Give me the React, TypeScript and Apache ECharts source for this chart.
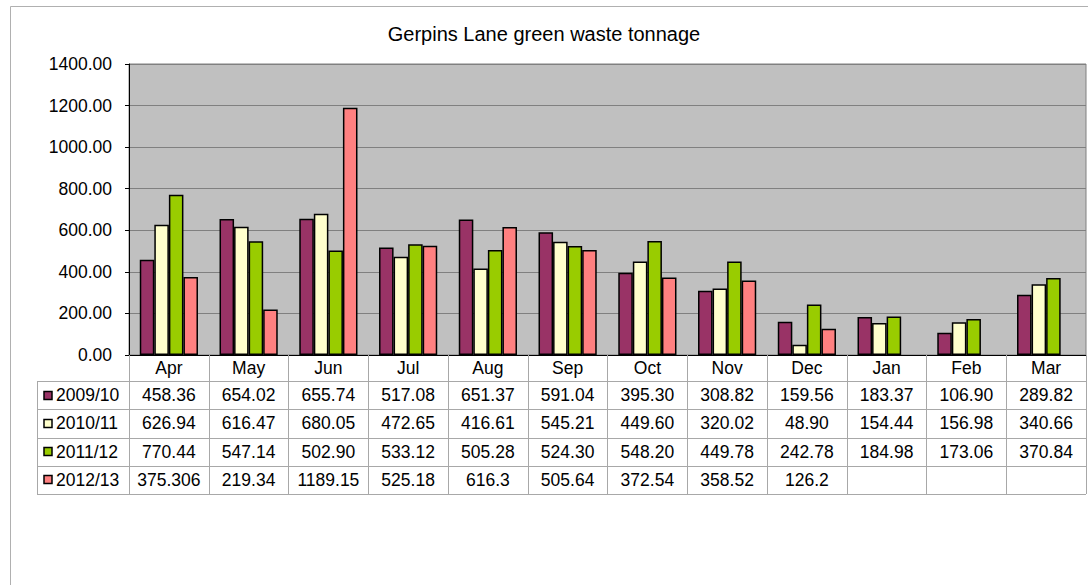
import React, { useEffect, useRef } from "react";
import * as echarts from "echarts";

const categories = ["Apr", "May", "Jun", "Jul", "Aug", "Sep", "Oct", "Nov", "Dec", "Jan", "Feb", "Mar"];
const seriesNames = ["2009/10", "2010/11", "2011/12", "2012/13"];
const s0910 = [458.36, 654.02, 655.74, 517.08, 651.37, 591.04, 395.3, 308.82, 159.56, 183.37, 106.9, 289.82];
const s1011 = [626.94, 616.47, 680.05, 472.65, 416.61, 545.21, 449.6, 320.02, 48.9, 154.44, 156.98, 340.66];
const s1112 = [770.44, 547.14, 502.9, 533.12, 505.28, 524.3, 548.2, 449.78, 242.78, 184.98, 173.06, 370.84];
const s1213: (number | null)[] = [375.306, 219.34, 1189.15, 525.18, 616.3, 505.64, 372.54, 358.52, 126.2, null, null, null];
const seriesData = [s0910, s1011, s1112, s1213];
const colors = ["#993366", "#FFFFCC", "#99CC00", "#FF8080"];
const title = "Gerpins Lane green waste tonnage";

const FONT = "'Liberation Sans', Arial, sans-serif";

function fmt(seriesIdx: number, v: number | null): string {
  if (v === null || v === undefined) return "";
  return seriesIdx < 3 ? v.toFixed(2) : String(v);
}

export default function App() {
  const ref = useRef<HTMLDivElement>(null);
  useEffect(() => {
    if (!ref.current) return;
    const chart = echarts.init(ref.current, null, { renderer: "svg" });
    const gridLeft = 129;
    const gridTop = 64;
    const gridRight = 2;
    const gridBottom = 230;
    chart.setOption({
      animation: false,
      backgroundColor: "#ffffff",
      title: {
        text: title,
        left: "center",
        top: 19,
        textStyle: { fontFamily: FONT, fontSize: 20, fontWeight: "normal", color: "#000" },
      },
      grid: {
        left: gridLeft,
        top: gridTop,
        right: gridRight,
        bottom: gridBottom,
        show: true,
        backgroundColor: "#C0C0C0",
        borderColor: "#808080",
        borderWidth: 1,
      },
      xAxis: {
        type: "category",
        data: categories,
        axisLine: { show: true, lineStyle: { color: "#000", width: 1 } },
        axisTick: { show: true, interval: 0, length: 139, lineStyle: { color: "#a8a8a8", width: 1 } },
        axisLabel: {
          interval: 0,
          margin: 13,
          verticalAlign: "middle",
          fontFamily: FONT,
          fontSize: 17.5,
          color: "#000",
        },
      },
      yAxis: {
        type: "value",
        min: 0,
        max: 1400,
        interval: 200,
        axisLine: { show: true, lineStyle: { color: "#000", width: 1 } },
        axisTick: { show: true, length: 4, lineStyle: { color: "#000" } },
        splitLine: { show: true, lineStyle: { color: "#808080", width: 1 } },
        axisLabel: {
          margin: 17,
          fontFamily: FONT,
          fontSize: 17.5,
          color: "#000",
          formatter: (v: number) => v.toFixed(2),
        },
      },
      series: seriesNames.map((name, i) => ({
        name,
        type: "bar",
        data: seriesData[i],
        barGap: "0%",
        barCategoryGap: "27%",
        itemStyle: { color: colors[i], borderColor: "#000", borderWidth: 1.5 },
      })),
    });

    const xs = categories.map((_, i) => chart.convertToPixel({ xAxisIndex: 0 }, i) as number);
    const bottomY = 585 - gridBottom;
    const rightX = 1088 - gridRight;
    const tableLeft = 37;
    const headerH = 26;
    const rowH = 28.25;
    const rowTops = seriesNames.map((_, r) => bottomY + headerH + r * rowH);
    const tableBottom = bottomY + headerH + seriesNames.length * rowH;
    const lineStyle = { stroke: "#a8a8a8", lineWidth: 1 };
    const graphics: any[] = [];
    graphics.push({
      type: "rect",
      shape: { x: 10.5, y: 6.5, width: 1100, height: 600 },
      style: { fill: "none", stroke: "#b0b0b0", lineWidth: 1 },
      silent: true,
      z: -10,
    });
    [...rowTops, tableBottom].forEach((y) => {
      graphics.push({
        type: "line",
        shape: { x1: tableLeft, y1: Math.round(y) + 0.5, x2: rightX, y2: Math.round(y) + 0.5 },
        style: lineStyle,
        silent: true,
      });
    });
    graphics.push({
      type: "line",
      shape: { x1: tableLeft + 0.5, y1: Math.round(rowTops[0]) + 0.5, x2: tableLeft + 0.5, y2: Math.round(tableBottom) + 0.5 },
      style: lineStyle,
      silent: true,
    });
    seriesNames.forEach((name, r) => {
      const cy = rowTops[r] + rowH / 2;
      graphics.push({
        type: "rect",
        shape: { x: 44, y: Math.round(cy - 4.5) + 0.5, width: 8, height: 8 },
        style: { fill: colors[r], stroke: "#000", lineWidth: 1.5 },
        silent: true,
      });
      graphics.push({
        type: "text",
        x: 56,
        y: cy,
        style: { text: name, fontFamily: FONT, fontSize: 17.5, fill: "#000", align: "left", verticalAlign: "middle" },
        silent: true,
      });
      seriesData[r].forEach((v, c) => {
        const t = fmt(r, v);
        if (!t) return;
        graphics.push({
          type: "text",
          x: xs[c],
          y: cy,
          style: { text: t, fontFamily: FONT, fontSize: 17.5, fill: "#000", align: "center", verticalAlign: "middle" },
          silent: true,
        });
      });
    });
    chart.setOption({ graphic: graphics });
    return () => chart.dispose();
  }, []);
  return (
    <div
      ref={ref}
      style={{ position: "fixed", left: 0, top: 0, width: 1088, height: 585 }}
    />
  );
}
